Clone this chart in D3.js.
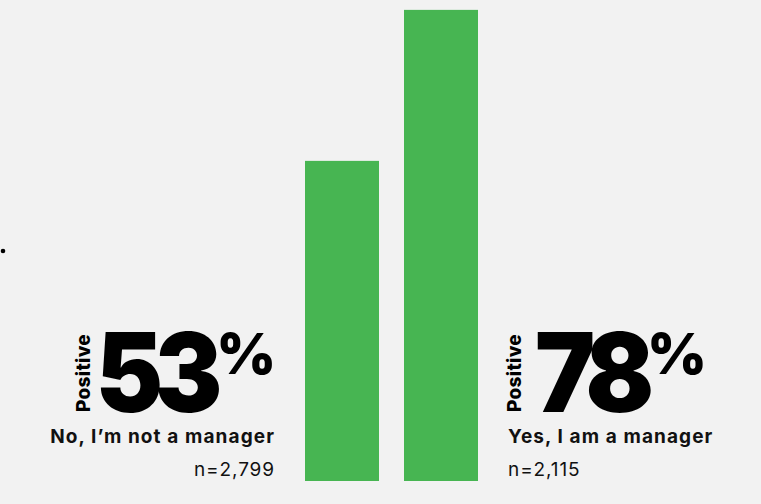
<!DOCTYPE html>
<html>
<head>
<meta charset="utf-8">
<script src="https://cdn.jsdelivr.net/npm/d3@7"></script>
<style>
  html, body { margin: 0; padding: 0; background: #f2f2f2; }
  svg { display: block; }
</style>
</head>
<body>
<div class="chart"></div>
<script>
////////////////////////////////// data

var categories = ["No, I\u2019m not a manager", "Yes, I am a manager"];
var positive = [53, 78];
var sampleSizes = ["n=2,799", "n=2,115"];

////////////////////////////////// setup

var width = 761, height = 504;
var green = "#47b552";

var svg = d3.select(".chart").append("svg")
    .attr("width", width)
    .attr("height", height);

svg.append("rect").attr("width", width).attr("height", height).attr("fill", "#f2f2f2");

//bars sit in the middle, the labels hang off either side
var x = d3.scaleBand().domain(categories).range([305, 478]).paddingInner(25 / 99);
var y = d3.scaleLinear().domain([0, 100]).range([481, 481 - 604]);

svg.selectAll(".bar").data(categories).enter().append("rect")
    .attr("class", "bar")
    .attr("x", function(d) { return x(d); })
    .attr("width", x.bandwidth())
    .attr("y", function(d, i) { return y(positive[i]); })
    .attr("height", function(d, i) { return y(0) - y(positive[i]); })
    .attr("fill", green);

//little stray dot on the left edge
svg.append("circle").attr("cx", 3).attr("cy", 251).attr("r", 2.3).attr("fill", "#000");

////////////////////////////////// labels

var bigFont = "Inter, 'DejaVu Sans', sans-serif";
var squash = 0.92;

function drawLabel(i) {
    var left = i === 0;
    var g = svg.append("g");
    var edge = left ? x(categories[i]) - 30 : x(categories[i]) + x.bandwidth() + 29;

    var pct = g.append("text")
        .attr("y", 374)
        .style("font-family", bigFont)
        .style("font-weight", 900)
        .style("font-size", "57px")
        .attr("fill", "#000")
        .text("%");
    var pw = pct.node().getBBox().width;

    var numG = g.append("g");
    var num = numG.append("text")
        .style("font-family", bigFont)
        .style("font-weight", 900)
        .style("font-size", "110px")
        .style("letter-spacing", "-9px")
        .attr("fill", "#000")
        .text(positive[i]);
    //visible width: drop the trailing letter spacing
    var nw = (num.node().getComputedTextLength() + 9) * squash;

    var pos = g.append("text")
        .style("font-family", bigFont)
        .style("font-weight", 800)
        .style("font-size", "19px")
        .style("letter-spacing", "0.3px")
        .attr("fill", "#000")
        .text("Positive");

    g.append("text")
        .attr("y", 443)
        .attr("text-anchor", left ? "end" : "start")
        .attr("x", left ? edge : edge + 1)
        .style("font-family", "Inter, sans-serif")
        .style("font-weight", 700)
        .style("font-size", "19px")
        .style("letter-spacing", "1.1px")
        .attr("fill", "#111")
        .text(categories[i]);

    g.append("text")
        .attr("y", 476)
        .attr("text-anchor", left ? "end" : "start")
        .attr("x", left ? edge : edge + 1)
        .style("font-family", "Inter, sans-serif")
        .style("font-weight", 400)
        .style("font-size", "19px")
        .style("letter-spacing", "0.9px")
        .attr("fill", "#111")
        .text(sampleSizes[i]);

    var posBase, numX, pctX;
    if (left) {
        pctX = edge - pw + 1;
        numX = pctX - nw + 6;
        posBase = numX - 6;
    } else {
        posBase = edge + 14;
        numX = posBase + 14;
        pctX = numX + nw - 7;
    }
    pct.attr("x", pctX);
    numG.attr("transform", "translate(" + numX + ",412) scale(" + squash + ",1)");
    pos.attr("transform", "translate(" + posBase + ",412) rotate(-90)");
}

categories.forEach(function(d, i) { drawLabel(i); });
</script>
</body>
</html>
